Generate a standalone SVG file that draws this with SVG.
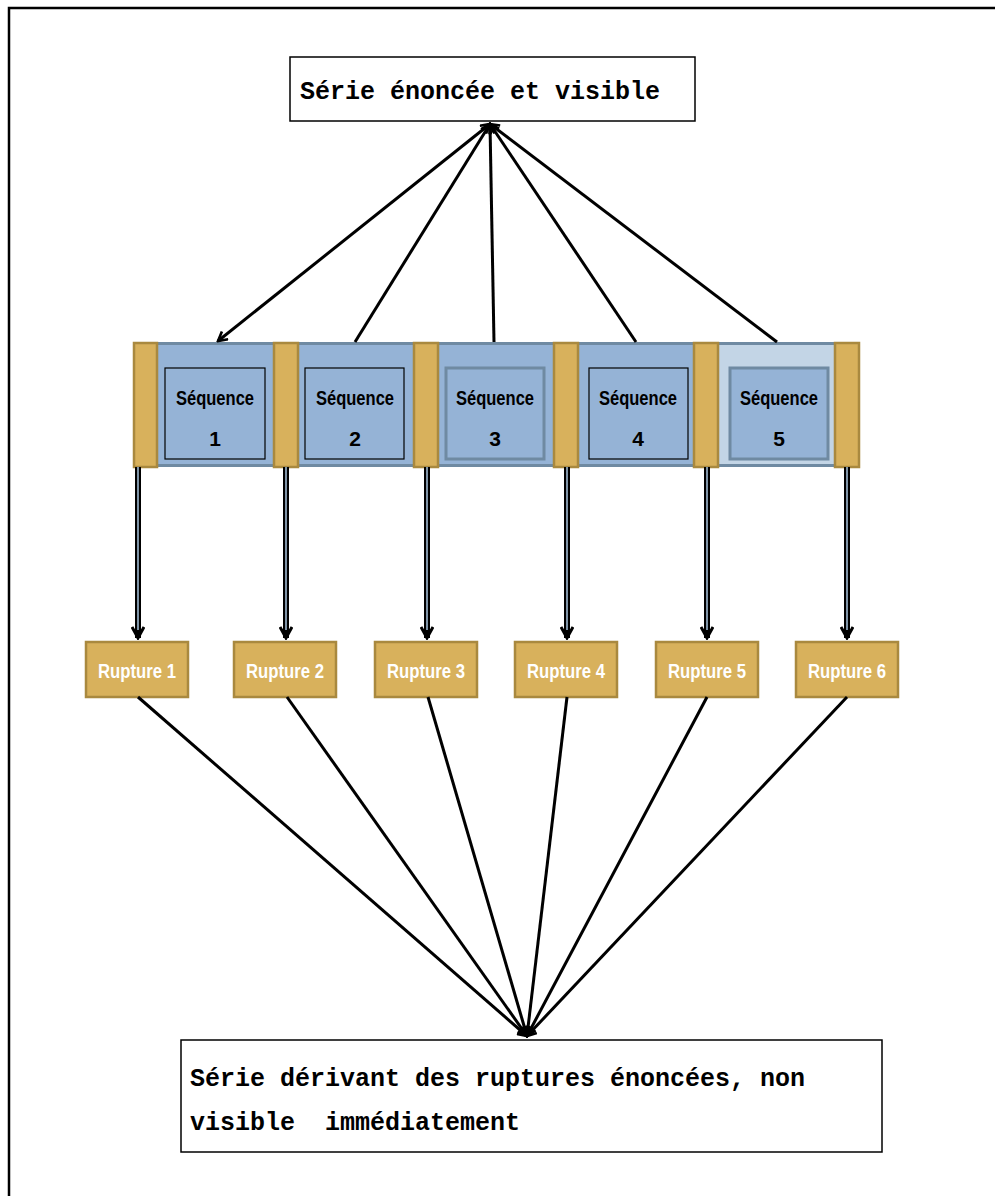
<svg xmlns="http://www.w3.org/2000/svg" width="995" height="1196" viewBox="0 0 995 1196">
<defs>
<style>
.mono{font-family:"Liberation Mono","Courier New",monospace;font-weight:bold;font-size:25px;fill:#000}
.seqt{font-family:"Liberation Sans",Arial,sans-serif;font-weight:bold;font-size:21px;fill:#000;text-anchor:middle}
.rupt{font-family:"Liberation Sans",Arial,sans-serif;font-weight:bold;font-size:20px;fill:#fff;text-anchor:middle}
.gold{fill:#d8b15c;stroke:#a9893f;stroke-width:2.5}
.conn{stroke:#000;stroke-width:3;fill:none}
.dbl{stroke:#000;stroke-width:6;fill:none}
.dblin{stroke:#a9c4de;stroke-width:1.5;fill:none}
</style>
<marker id="arr" viewBox="0 0 12 12" refX="10" refY="6" markerWidth="12" markerHeight="12" markerUnits="userSpaceOnUse" orient="auto-start-reverse">
<path d="M1,1 L10,6 L1,11" fill="none" stroke="#000" stroke-width="2.6"/>
</marker>
<marker id="arrd" viewBox="0 0 14 14" refX="12" refY="7" markerWidth="14" markerHeight="14" markerUnits="userSpaceOnUse" orient="auto">
<path d="M1,1 L12,7 L1,13" fill="none" stroke="#000" stroke-width="3"/>
</marker>
</defs>
<rect width="995" height="1196" fill="#fff"/>
<path d="M9,1196 V8 H995" fill="none" stroke="#000" stroke-width="2.5"/>

<g id="top-box">
<rect x="290" y="57" width="405" height="64" fill="#fff" stroke="#000" stroke-width="1.5"/>
<text class="mono" x="300" y="99">Série énoncée et visible</text>
</g>

<g id="band">
<rect x="145" y="342" width="702" height="125" fill="#95b3d6"/>
<rect x="718" y="342" width="117" height="125" fill="#c3d5e6"/>
<line x1="145" y1="343.5" x2="847" y2="343.5" stroke="#6f8aa2" stroke-width="3"/>
<line x1="145" y1="465.5" x2="847" y2="465.5" stroke="#6f8aa2" stroke-width="3"/>
<rect class="gold" x="134" y="343" width="23" height="124"/>
<rect class="gold" x="274" y="343" width="24" height="124"/>
<rect class="gold" x="414" y="343" width="24" height="124"/>
<rect class="gold" x="554" y="343" width="24" height="124"/>
<rect class="gold" x="694" y="343" width="24" height="124"/>
<rect class="gold" x="835" y="343" width="24" height="124"/>
</g>

<g id="seq1">
<rect x="165" y="368" width="100" height="91" fill="#95b3d6" stroke="#000" stroke-width="1.2"/>
<text class="seqt" x="215" y="405" textLength="78" lengthAdjust="spacingAndGlyphs">Séquence</text>
<text class="seqt" x="215" y="446">1</text>
</g>
<g id="seq2">
<rect x="305" y="368" width="99" height="91" fill="#95b3d6" stroke="#000" stroke-width="1.2"/>
<text class="seqt" x="355" y="405" textLength="78" lengthAdjust="spacingAndGlyphs">Séquence</text>
<text class="seqt" x="355" y="446">2</text>
</g>
<g id="seq3">
<rect x="446" y="368" width="98" height="91" fill="#95b3d6" stroke="#6f8aa2" stroke-width="3"/>
<text class="seqt" x="495" y="405" textLength="78" lengthAdjust="spacingAndGlyphs">Séquence</text>
<text class="seqt" x="495" y="446">3</text>
</g>
<g id="seq4">
<rect x="589" y="368" width="99" height="91" fill="#95b3d6" stroke="#000" stroke-width="1.2"/>
<text class="seqt" x="638" y="405" textLength="78" lengthAdjust="spacingAndGlyphs">Séquence</text>
<text class="seqt" x="638" y="446">4</text>
</g>
<g id="seq5">
<rect x="730" y="368" width="98" height="91" fill="#95b3d6" stroke="#6f8aa2" stroke-width="3"/>
<text class="seqt" x="779" y="405" textLength="78" lengthAdjust="spacingAndGlyphs">Séquence</text>
<text class="seqt" x="779" y="446">5</text>
</g>

<g id="r1"><rect class="gold" x="86" y="642" width="102" height="55"/><text class="rupt" x="137" y="678" textLength="78" lengthAdjust="spacingAndGlyphs">Rupture 1</text></g>
<g id="r2"><rect class="gold" x="234" y="642" width="102" height="55"/><text class="rupt" x="285" y="678" textLength="78" lengthAdjust="spacingAndGlyphs">Rupture 2</text></g>
<g id="r3"><rect class="gold" x="375" y="642" width="102" height="55"/><text class="rupt" x="426" y="678" textLength="78" lengthAdjust="spacingAndGlyphs">Rupture 3</text></g>
<g id="r4"><rect class="gold" x="515" y="642" width="102" height="55"/><text class="rupt" x="566" y="678" textLength="78" lengthAdjust="spacingAndGlyphs">Rupture 4</text></g>
<g id="r5"><rect class="gold" x="656" y="642" width="102" height="55"/><text class="rupt" x="707" y="678" textLength="78" lengthAdjust="spacingAndGlyphs">Rupture 5</text></g>
<g id="r6"><rect class="gold" x="796" y="642" width="102" height="55"/><text class="rupt" x="847" y="678" textLength="78" lengthAdjust="spacingAndGlyphs">Rupture 6</text></g>

<g id="bottom-box">
<rect x="181" y="1040" width="701" height="112" fill="#fff" stroke="#000" stroke-width="1.5"/>
<text class="mono" x="190" y="1086">Série dérivant des ruptures énoncées, non</text>
<text class="mono" x="190" y="1130" xml:space="preserve">visible  immédiatement</text>
</g>

<g id="connectors">
<line class="conn" x1="490" y1="124" x2="218" y2="341" marker-start="url(#arr)" marker-end="url(#arr)"/>
<line class="conn" x1="355" y1="342" x2="490" y2="124" marker-end="url(#arr)"/>
<line class="conn" x1="494" y1="342" x2="490" y2="124" marker-end="url(#arr)"/>
<line class="conn" x1="636" y1="342" x2="490" y2="124" marker-end="url(#arr)"/>
<line class="conn" x1="777" y1="342" x2="490" y2="124" marker-end="url(#arr)"/>

<line class="dbl" x1="138" y1="467" x2="138" y2="638" marker-end="url(#arrd)"/>
<line class="dblin" x1="138" y1="467" x2="138" y2="630"/>
<line class="dbl" x1="286" y1="467" x2="286" y2="638" marker-end="url(#arrd)"/>
<line class="dblin" x1="286" y1="467" x2="286" y2="630"/>
<line class="dbl" x1="427" y1="467" x2="427" y2="638" marker-end="url(#arrd)"/>
<line class="dblin" x1="427" y1="467" x2="427" y2="630"/>
<line class="dbl" x1="567" y1="467" x2="567" y2="638" marker-end="url(#arrd)"/>
<line class="dblin" x1="567" y1="467" x2="567" y2="630"/>
<line class="dbl" x1="707" y1="467" x2="707" y2="638" marker-end="url(#arrd)"/>
<line class="dblin" x1="707" y1="467" x2="707" y2="630"/>
<line class="dbl" x1="847" y1="467" x2="847" y2="638" marker-end="url(#arrd)"/>
<line class="dblin" x1="847" y1="467" x2="847" y2="630"/>

<line class="conn" x1="138" y1="697" x2="527" y2="1036" marker-end="url(#arr)"/>
<line class="conn" x1="287" y1="697" x2="527" y2="1036" marker-end="url(#arr)"/>
<line class="conn" x1="428" y1="697" x2="527" y2="1036" marker-end="url(#arr)"/>
<line class="conn" x1="567" y1="697" x2="527" y2="1036" marker-end="url(#arr)"/>
<line class="conn" x1="707" y1="697" x2="527" y2="1036" marker-end="url(#arr)"/>
<line class="conn" x1="847" y1="697" x2="527" y2="1036" marker-end="url(#arr)"/>
</g>
</svg>
